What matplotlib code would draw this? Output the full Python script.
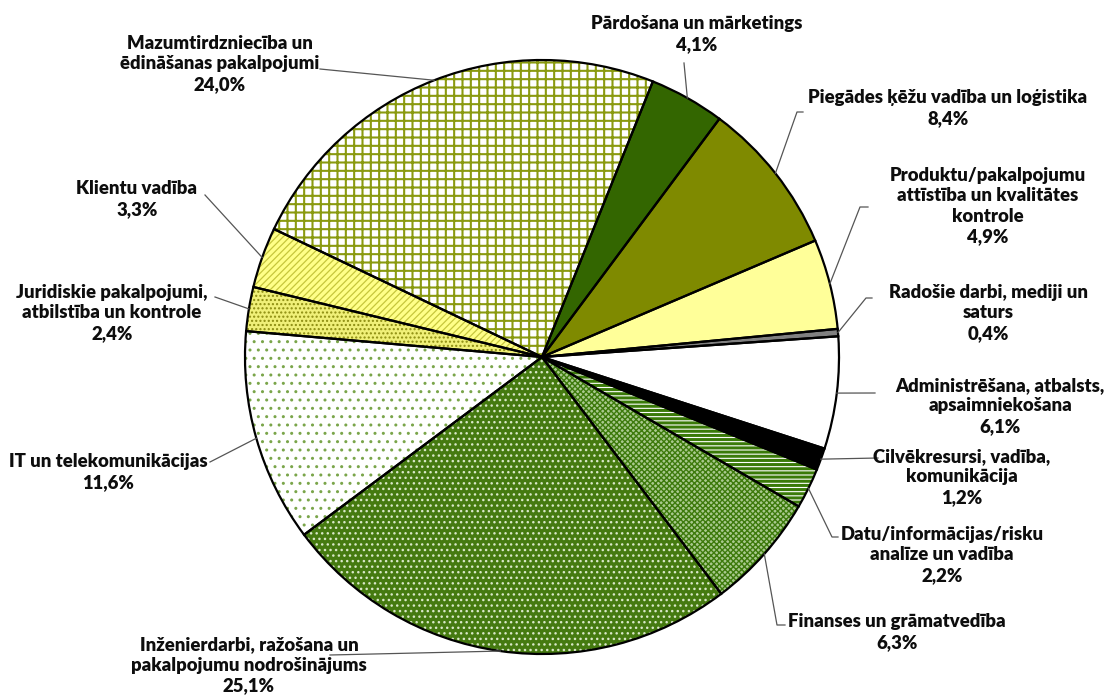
import numpy as np
import matplotlib.pyplot as plt

# Sector shares of vacancies, %, in the order the slices are drawn (clockwise)
categories = [
    "Administrēšana, atbalsts,\napsaimniekošana",
    "Cilvēkresursi, vadība,\nkomunikācija",
    "Datu/informācijas/risku\nanalīze un vadība",
    "Finanses un grāmatvedība",
    "Inženierdarbi, ražošana un\npakalpojumu nodrošinājums",
    "IT un telekomunikācijas",
    "Juridiskie pakalpojumi,\natbilstība un kontrole",
    "Klientu vadība",
    "Mazumtirdzniecība un\nēdināšanas pakalpojumi",
    "Pārdošana un mārketings",
    "Piegādes ķēžu vadība un loģistika",
    "Produktu/pakalpojumu\nattīstība un kvalitātes\nkontrole",
    "Radošie darbi, mediji un\nsaturs",
]
shares = [6.1, 1.2, 2.2, 6.3, 25.1, 11.6, 2.4, 3.3, 24.0, 4.1, 8.4, 4.9, 0.4]

# fill colour, hatch pattern, hatch colour, hatch line width
styles = [
    ("#ffffff", None, "#ffffff", 1.0),
    ("#000000", None, "#000000", 1.0),
    ("#ffffff", "----", "#3a7a08", 2.2),
    ("#a9c98e", "xxxxxx", "#3d7a0c", 1.0),
    ("#457a10", "...", "#d9e8c8", 1.0),
    ("#ffffff", "..", "#7aa54a", 1.0),
    ("#f0f078", "....", "#8c8c10", 1.0),
    ("#ffff88", "/////", "#c6c63c", 0.9),
    ("#ffffff", "++", "#8a9a10", 1.5),
    ("#336600", None, "#336600", 1.0),
    ("#7f8a00", None, "#7f8a00", 1.0),
    ("#ffff99", None, "#ffff99", 1.0),
    ("#808080", None, "#808080", 1.0),
]

W, H = 1108, 700
CX, CY, R = 542, 357, 297


def px(x, y):
    # pixel position -> data coords (pie radius = 1)
    return (x - CX) / R, (CY - y) / R


# label block centre and leader path (pixels), per slice
label_pos = [
    (1000, 406), (962, 477), (942, 555), (897, 632), (249, 665),
    (108, 472), (112, 313), (137, 199), (220, 64), (697, 34),
    (948, 108), (988, 206), (988, 313),
]
leader_pts = [
    [(875, 393)], [(878, 458)], [(838, 537), (832, 537)], [(785, 625), (777, 625)],
    [(330, 655)], [(210, 462)], [(215, 297)], [(205, 195)], [(320, 69)],
    [(684, 63)], [(803, 112), (797, 112)], [(868, 207), (860, 207)],
    [(872, 298), (866, 298)],
]

fig = plt.figure(figsize=(W / 100, H / 100), dpi=100)
ax = fig.add_axes([0, 0, 1, 1])

wedges, _ = ax.pie(shares, startangle=4, counterclock=False, radius=1,
                   wedgeprops=dict(linewidth=0))
for w, (fc, hatch, hc, hlw) in zip(wedges, styles):
    w.set_facecolor(fc)
    w.set_edgecolor(hc)
    w.set_linewidth(0)
    if hatch:
        w.set_hatch(hatch)
        if hasattr(w, "set_hatch_linewidth"):
            w.set_hatch_linewidth(hlw)

# black outlines on top of the patterned fills
ax.pie(shares, startangle=4, counterclock=False, radius=1,
       wedgeprops=dict(fill=False, edgecolor="black", linewidth=1.6))

# pie() resets the limits, so fix them afterwards
ax.set_xlim(-CX / R, (W - CX) / R)
ax.set_ylim((CY - H) / R, CY / R)
ax.set_aspect("equal")
ax.axis("off")

for w, name, val, (lx, ly), pts in zip(wedges, categories, shares, label_pos, leader_pts):
    mid = np.deg2rad((w.theta1 + w.theta2) / 2)
    path = [px(*p) for p in pts] + [(np.cos(mid), np.sin(mid))]
    xs, ys = zip(*path)
    ax.plot(xs, ys, color="#555555", lw=0.9, zorder=1)
    txt = f"{name}\n{val:.1f}".replace(".", ",") + "%"
    ax.text(*px(lx, ly), txt, ha="center", va="center", fontsize=13.3,
            fontweight="heavy", family="Lato", color="#0d0d0d", linespacing=1.25)

fig.savefig("out.png", dpi=100)
